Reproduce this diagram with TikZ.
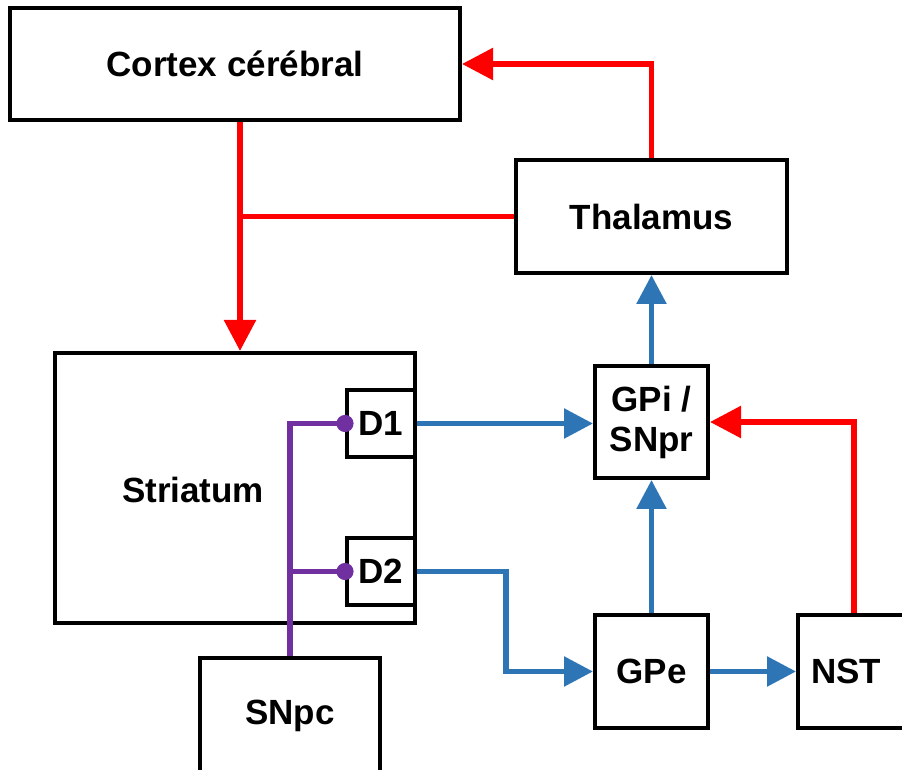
\documentclass[tikz,border=0pt]{standalone}
\usepackage{fontspec}
\setmainfont{Liberation Sans}
\usetikzlibrary{arrows.meta}
\definecolor{exred}{HTML}{FF0000}
\definecolor{inhblue}{HTML}{2E75B6}
\definecolor{dapurple}{HTML}{7030A0}

\begin{document}
\begin{tikzpicture}[x=0.5pt, y=-0.5pt,
    box/.style={draw, line width=2pt, rectangle, inner sep=0pt, align=center,
                font=\bfseries\fontsize{17.5}{20}\selectfont},
    txt/.style={inner sep=0pt, font=\bfseries\fontsize{17.5}{20}\selectfont},
    redline/.style={exred, line width=2.8pt},
    redarr/.style={redline, -{Triangle[length=15.5pt,width=15.5pt]}},
    bluearr/.style={inhblue, line width=2.8pt, -{Triangle[length=14.5pt,width=14.5pt]}},
    dapath/.style={dapurple, line width=2.8pt}]
                    \useasboundingbox (0,0) rectangle (902,770);
                    \clip (0,0) rectangle (902,770);
                    \node[box, minimum width=225pt, minimum height=56pt] (cortex) at (235,64) {Cortex cérébral};
                    \node[box, minimum width=135.5pt, minimum height=56.5pt] (thal) at (651.5,216.5) {Thalamus};
                    \node[box, minimum width=180pt, minimum height=135pt] (striatum) at (235,488) {};
                    \node[txt] (striatumtxt) at (193,490) {Striatum};
                    \node[box, minimum width=34pt, minimum height=33.5pt] (d1) at (381,423.5) {D1};
                    \node[box, minimum width=34pt, minimum height=33.5pt] (d2) at (381,571.5) {D2};
                    \node[box, minimum width=56.5pt, minimum height=56pt] (gpi) at (651.5,422) {GPi /\\SNpr};
                    \node[box, minimum width=56.5pt, minimum height=56.5pt] (gpe) at (651.5,671.5) {GPe};
                    \node[box, minimum width=56pt, minimum height=56.5pt] (nst) at (854,671.5) {};
                    \node[txt] (nsttxt) at (846,671.5) {NST};
                    \node[box, minimum width=90pt, minimum height=58pt] (snpc) at (290,716) {SNpc};
                    % cortex -- thalamus loop
                    \coordinate (split) at (240,216.5);
                    \draw[redline] (thal.west) -- (thal.west -| split);
                    \draw[redarr] (cortex.south -| split) -- (striatum.north -| split);
                    \draw[redarr] (thal.north) |- (cortex.east);
                    \draw[bluearr] (gpi.north) -- (thal.south);
                    % direct and indirect pathways
                    \draw[bluearr] (d1.east) -- (d1.east -| gpi.west);
                    \draw[bluearr] (d2.east) -- ++(89,0) |- (gpe.west);
                    \draw[bluearr] (gpe.north) -- (gpi.south);
                    \draw[bluearr] (gpe.east) -- (nst.west);
                    \draw[redarr] (nst.north) |- (gpi.east);
                    % dopamine
                    \draw[dapath] (snpc.north) -- (snpc.north |- d1.west) -- (d1.west);
                    \draw[dapath] (snpc.north |- d2.west) -- (d2.west);
                    \fill[dapurple] (d1.west) circle (4.3pt);
                    \fill[dapurple] (d2.west) circle (4.3pt);
                \end{tikzpicture}
\end{document}
